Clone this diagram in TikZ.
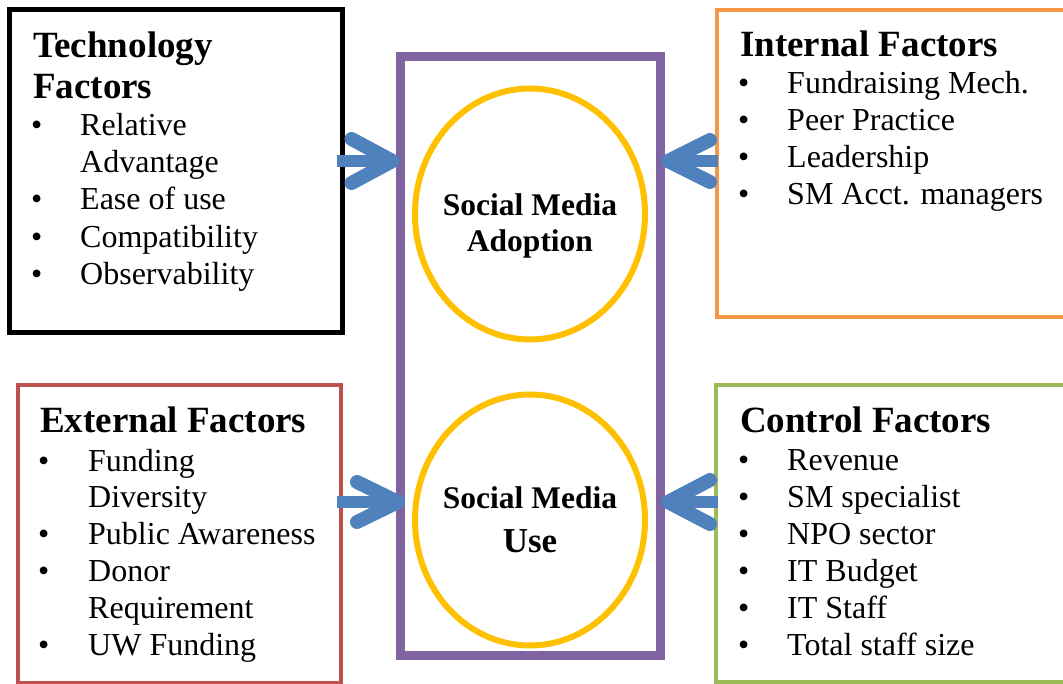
\documentclass[tikz,border=0pt]{standalone}
\usepackage{fontspec}
\setmainfont{Liberation Serif}
\usetikzlibrary{shapes.geometric}
\definecolor{techblack}{HTML}{000000}
\definecolor{intorange}{HTML}{F79646}
\definecolor{extred}{HTML}{C0504D}
\definecolor{ctrlgreen}{HTML}{9BBB59}
\definecolor{smpurple}{HTML}{8064A2}
\definecolor{smyellow}{HTML}{FFC000}
\definecolor{arrowblue}{HTML}{4F81BD}
\tikzset{
  frame/.style={draw, rectangle, anchor=north west, inner sep=0pt, outer sep=0pt},
  head/.style={anchor=base west, inner sep=0pt, font=\fontsize{37}{41}\selectfont\bfseries},
  item/.style={anchor=base west, inner sep=0pt, font=\fontsize{32}{37}\selectfont},
  ctr/.style={anchor=base, inner sep=0pt, font=\fontsize{31.5}{36}\selectfont\bfseries},
  ring/.style={draw=smyellow, line width=6pt, ellipse, inner sep=0pt, outer sep=0pt,
    minimum width=230pt, minimum height=251pt},
  shaft/.style={draw=arrowblue, line width=12pt},
  barb/.style={draw=arrowblue, line width=14pt, line cap=round, line join=round},
}
\begin{document}
\begin{tikzpicture}[x=1pt,y=-1pt]
\useasboundingbox[fill=white] (0,0) rectangle (1063,684);

% factor boxes
\node[frame, draw=techblack, line width=5pt, minimum width=332.5pt, minimum height=323pt] (tech) at (9.5,9.5) {};
\node[frame, draw=intorange, line width=4pt, minimum width=360pt, minimum height=307pt] (int) at (717,10) {};
\node[frame, draw=extred, line width=4pt, minimum width=323pt, minimum height=297.5pt] (ext) at (18,385.5) {};
\node[frame, draw=ctrlgreen, line width=4pt, minimum width=360pt, minimum height=297pt] (ctrl) at (716,385) {};

% central frame and the two outcome ellipses
\node[draw=smpurple, line width=9pt, rectangle, inner sep=0pt, outer sep=0pt,
  minimum width=260pt, minimum height=598pt] (sm) at (530,356) {};
\node[ring] (adopt) at (530,214) {};
\node[ring] (use) at (530,520) {};
\node[ctr] (adopt-l1) at (530,216) {Social Media};
\node[ctr] (adopt-l2) at (530,252) {Adoption};
\node[ctr] (use-l1) at (530,508) {Social Media};
\node[ctr, font=\fontsize{35}{40}\selectfont\bfseries] (use-l2) at (530,552) {Use};

% technology factors
\node[head] (tech-h1) at (33,58) {Technology};
\node[head] (tech-h2) at (33,99) {Factors};
\node[item] (tech-b1) at (31,136) {\textbullet};
\node[item] (tech-t1) at (80,136) {Relative};
\node[item] (tech-t1b) at (80,173) {Advantage};
\node[item] (tech-b2) at (31,210) {\textbullet};
\node[item] (tech-t2) at (80,210) {Ease of use};
\node[item] (tech-b3) at (31,248) {\textbullet};
\node[item] (tech-t3) at (80,248) {Compatibility};
\node[item] (tech-b4) at (31,285) {\textbullet};
\node[item] (tech-t4) at (80,285) {Observability};

% internal factors
\node[head] (int-h) at (740,57) {Internal Factors};
\foreach \yy/\txt [count=\i] in {94/Fundraising Mech., 131/Peer Practice, 168/Leadership, 205/SM Acct. managers}{
  \node[item] (int-b\i) at (738,\yy) {\textbullet};
  \node[item] (int-t\i) at (787,\yy) {\txt};
}

% external factors
\node[head] (ext-h) at (40,432) {External Factors};
\node[item] (ext-b1) at (38,471) {\textbullet};
\node[item] (ext-t1) at (88,471) {Funding};
\node[item] (ext-t1b) at (88,507) {Diversity};
\node[item] (ext-b2) at (38,544) {\textbullet};
\node[item] (ext-t2) at (88,544) {Public Awareness};
\node[item] (ext-b3) at (38,581) {\textbullet};
\node[item] (ext-t3) at (88,581) {Donor};
\node[item] (ext-t3b) at (88,618) {Requirement};
\node[item] (ext-b4) at (38,655) {\textbullet};
\node[item] (ext-t4) at (88,655) {UW Funding};

% control factors
\node[head] (ctrl-h) at (740,432) {Control Factors};
\foreach \yy/\txt [count=\i] in {470/Revenue, 507/SM specialist, 544/NPO sector, 581/IT Budget, 618/IT Staff, 655/Total staff size}{
  \node[item] (ctrl-b\i) at (738,\yy) {\textbullet};
  \node[item] (ctrl-t\i) at (787,\yy) {\txt};
}

% block arrows into the central frame
\coordinate (a1s) at ([xshift=-5pt]tech.east |- 0,161);
\coordinate (a1t) at ([xshift=-7.5pt]sm.west |- 0,161);
\draw[shaft] (a1s) -- ([xshift=-6pt]a1t);
\draw[barb] ([xshift=-41pt,yshift=-22pt]a1t) -- (a1t) -- ([xshift=-41pt,yshift=22pt]a1t);

\coordinate (a2s) at ([xshift=-4pt]ext.east |- 0,502);
\coordinate (a2t) at ([xshift=-2pt]sm.west |- 0,502);
\draw[shaft] (a2s) -- ([xshift=-6pt]a2t);
\draw[barb] ([xshift=-41pt,yshift=-20pt]a2t) -- (a2t) -- ([xshift=-41pt,yshift=20pt]a2t);

\coordinate (a3s) at ([xshift=1pt]int.west |- 0,161);
\coordinate (a3t) at ([xshift=8pt]sm.east |- 0,161);
\draw[shaft] (a3s) -- ([xshift=6pt]a3t);
\draw[barb] ([xshift=42pt,yshift=-21pt]a3t) -- (a3t) -- ([xshift=42pt,yshift=21pt]a3t);

\coordinate (a4s) at ([xshift=2pt]ctrl.west |- 0,502);
\coordinate (a4t) at ([xshift=8pt]sm.east |- 0,502);
\draw[shaft] (a4s) -- ([xshift=6pt]a4t);
\draw[barb] ([xshift=42pt,yshift=-22pt]a4t) -- (a4t) -- ([xshift=42pt,yshift=22pt]a4t);
\end{tikzpicture}
\end{document}
